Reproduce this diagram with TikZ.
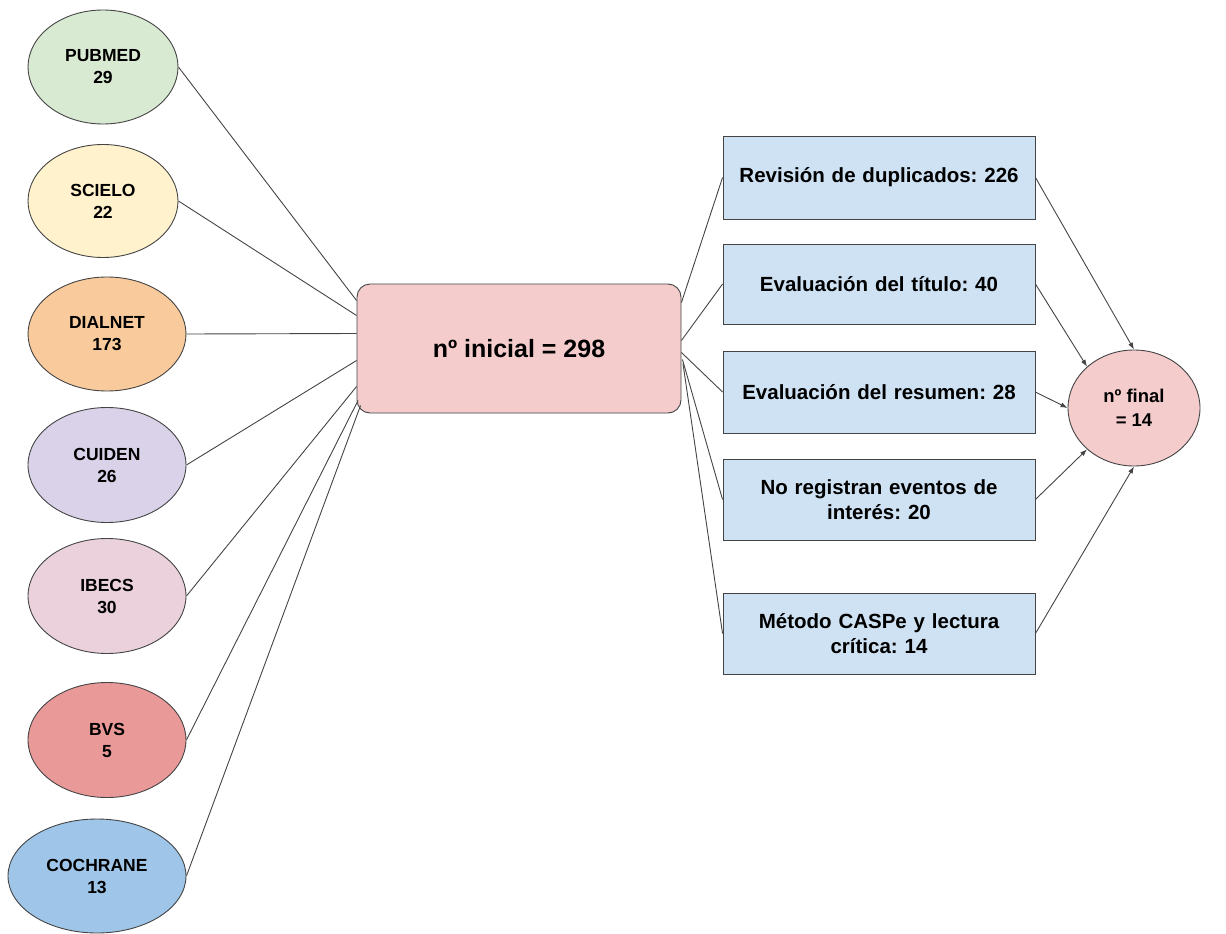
\documentclass[tikz,border=0pt]{standalone}
\usepackage{fontspec}
\setmainfont{Liberation Sans}
\usetikzlibrary{shapes.geometric,arrows.meta,calc}
\frenchspacing
\definecolor{cpub}{HTML}{D9EAD3}
\definecolor{csci}{HTML}{FFF2CC}
\definecolor{cdia}{HTML}{F9CB9C}
\definecolor{ccui}{HTML}{D9D2E9}
\definecolor{cibe}{HTML}{EAD1DC}
\definecolor{cbvs}{HTML}{EA9999}
\definecolor{ccoc}{HTML}{9FC5E8}
\definecolor{cpink}{HTML}{F4CCCC}
\definecolor{cblue}{HTML}{CFE2F3}
\definecolor{cline}{HTML}{444444}
\tikzset{
  src/.style={ellipse, draw=cline, line width=0.9pt, inner sep=0pt,
    align=center, font=\fontsize{17.5}{22}\selectfont\bfseries\frenchspacing},
  mainbox/.style={rectangle, rounded corners=13pt, draw=cline, line width=0.9pt,
    fill=cpink, minimum width=324pt, minimum height=129pt, inner sep=0pt,
    font=\fontsize{25}{30}\selectfont\bfseries\frenchspacing},
  stepbox/.style={rectangle, draw=cline, line width=0.9pt, fill=cblue,
    minimum width=312pt, inner sep=0pt, align=center, text width=306pt,
    font=\fontsize{20.5}{25}\selectfont\bfseries\frenchspacing},
  finalnode/.style={ellipse, draw=cline, line width=0.9pt, fill=cpink,
    minimum width=132pt, minimum height=116pt, inner sep=0pt, align=center,
    font=\fontsize{18.5}{24}\selectfont\bfseries\frenchspacing},
  conn/.style={draw=cline, line width=0.9pt},
  arr/.style={conn, -{Latex[length=7pt,width=5pt]}}
}
\begin{document}
\begin{tikzpicture}[x=1pt,y=-1pt]
\useasboundingbox (0,0) rectangle (1226,934);
\node[src, fill=cpub, minimum width=150pt, minimum height=114pt] (pub) at (103,67) {PUBMED\\29};
\node[src, fill=csci, minimum width=150pt, minimum height=113pt] (sci) at (103,201) {SCIELO\\22};
\node[src, fill=cdia, minimum width=158pt, minimum height=114pt] (dia) at (107,334) {DIALNET\\173};
\node[src, fill=ccui, minimum width=158pt, minimum height=115pt] (cui) at (107,465) {CUIDEN\\26};
\node[src, fill=cibe, minimum width=158pt, minimum height=115pt] (ibe) at (107,596) {IBECS\\30};
\node[src, fill=cbvs, minimum width=158pt, minimum height=115pt] (bvs) at (107,740) {BVS\\5};
\node[src, fill=ccoc, minimum width=178pt, minimum height=114pt] (coc) at (97,876) {COCHRANE\\13};

\node[mainbox] (c) at (519,348.5) {nº inicial = 298};

\node[stepbox, minimum height=83pt] (b1) at (879,177.5) {Revisión de duplicados: 226};
\node[stepbox, minimum height=80pt] (b2) at (879,284) {Evaluación del título: 40};
\node[stepbox, minimum height=82pt] (b3) at (879,392) {Evaluación del resumen: 28};
\node[stepbox, minimum height=81pt] (b4) at (879,499.5) {No registran eventos de\\interés: 20};
\node[stepbox, minimum height=81pt] (b5) at (879,633.5) {Método CASPe y lectura\\crítica: 14};

\node[finalnode] (f) at (1134,408) {nº final\\= 14};

% sources to main box
\draw[conn] (pub.east) -- ($(c.west)+(0,-48)$);
\draw[conn] (sci.east) -- ($(c.west)+(0,-33)$);
\draw[conn] (dia.east) -- ($(c.west)+(0,-15)$);
\draw[conn] (cui.east) -- ($(c.west)+(0,12)$);
\draw[conn] (ibe.east) -- ($(c.west)+(0,38)$);
\draw[conn] (bvs.east) -- ($(c.west)+(1.5,52)$);
\draw[conn] (coc.east) -- ($(c.west)+(4,57)$);

% main box to steps
\draw[conn] ($(c.east)+(0,-46)$) -- (b1.west);
\draw[conn] ($(c.east)+(0,-8)$) -- (b2.west);
\draw[conn] ($(c.east)+(0,4)$) -- (b3.west);
\draw[conn] ($(c.east)+(1,11)$) -- (b4.west);
\draw[conn] ($(c.east)+(1.5,15)$) -- (b5.west);

% steps to final
\draw[arr] (b1.east) -- (f.north);
\draw[arr] (b2.east) -- (f.north west);
\draw[arr] (b3.east) -- (f.west);
\draw[arr] (b4.east) -- (f.south west);
\draw[arr] (b5.east) -- (f.south);
\end{tikzpicture}
\end{document}
